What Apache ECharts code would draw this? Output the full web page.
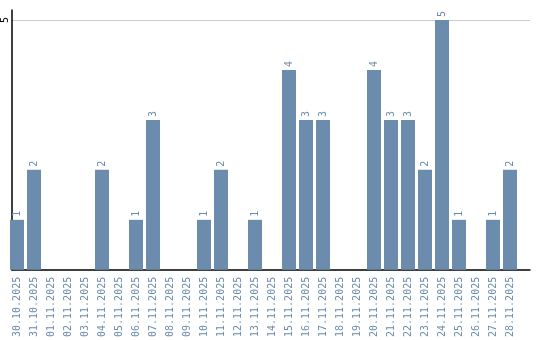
<!DOCTYPE html>
<html>
<head>
<meta charset="utf-8">
<script src="https://cdn.jsdelivr.net/npm/echarts@6/dist/echarts.min.js"></script>
<style>html,body{margin:0;padding:0;background:#fff}#c{width:540px;height:340px}</style>
</head>
<body>
<div id="c"></div>
<script>
var categories = ['30.10.2025','31.10.2025','01.11.2025','02.11.2025','03.11.2025','04.11.2025','05.11.2025','06.11.2025','07.11.2025','08.11.2025','09.11.2025','10.11.2025','11.11.2025','12.11.2025','13.11.2025','14.11.2025','15.11.2025','16.11.2025','17.11.2025','18.11.2025','19.11.2025','20.11.2025','21.11.2025','22.11.2025','23.11.2025','24.11.2025','25.11.2025','26.11.2025','27.11.2025','28.11.2025'];
var values = [1,2,0,0,0,2,0,1,3,0,0,1,2,0,1,0,4,3,3,0,0,4,3,3,2,5,1,0,1,2];
var yMax = 5.2;
var yInterval = 5;

var barColor = '#6b8cac';
var chart = echarts.init(document.getElementById('c'), null, {renderer: 'canvas'});
chart.setOption({
  animation: false,
  backgroundColor: '#fff',
  grid: [
    {left: 8.5, right: 21.5, top: 10, bottom: 70},
    {left: 10, right: 10, top: 10, bottom: 70}
  ],
  xAxis: [
    {
      type: 'category', gridIndex: 0, data: categories,
      axisLine: {show: false}, axisTick: {show: false}, splitLine: {show: false},
      axisLabel: {interval: 0, rotate: 90, margin: 7, color: barColor, fontSize: 10, fontFamily: 'DejaVu Sans Mono'}
    },
    {
      type: 'value', gridIndex: 1, min: 0, max: 1,
      axisLine: {show: true, lineStyle: {color: '#000', width: 1.5}},
      axisTick: {show: false}, axisLabel: {show: false}, splitLine: {show: false}
    }
  ],
  yAxis: [
    {
      type: 'value', gridIndex: 0, min: 0, max: yMax, interval: yInterval,
      axisLine: {show: false}, axisTick: {show: false}, axisLabel: {show: false}, splitLine: {show: false}
    },
    {
      type: 'value', gridIndex: 1, min: 0, max: yMax, interval: yInterval,
      axisLine: {show: true, lineStyle: {color: '#000', width: 1.5}},
      axisTick: {show: false},
      axisLabel: {show: true, rotate: 90, margin: 2, align: 'center', verticalAlign: 'bottom', color: '#000', fontSize: 10, fontFamily: 'DejaVu Sans Mono', showMinLabel: false, showMaxLabel: false},
      splitLine: {show: true, showMinLine: false, showMaxLine: false, lineStyle: {color: '#cccccc', width: 1}}
    }
  ],
  series: [
    {
      type: 'bar', xAxisIndex: 0, yAxisIndex: 0, data: values, barWidth: 14,
      itemStyle: {color: barColor},
      label: {
        show: true, position: 'top', rotate: 90, align: 'left', verticalAlign: 'middle', distance: 3,
        color: barColor, fontSize: 10, fontFamily: 'DejaVu Sans Mono',
        formatter: function (p) { return p.value ? String(p.value) : ''; }
      }
    }
  ]
});
</script>
</body>
</html>
